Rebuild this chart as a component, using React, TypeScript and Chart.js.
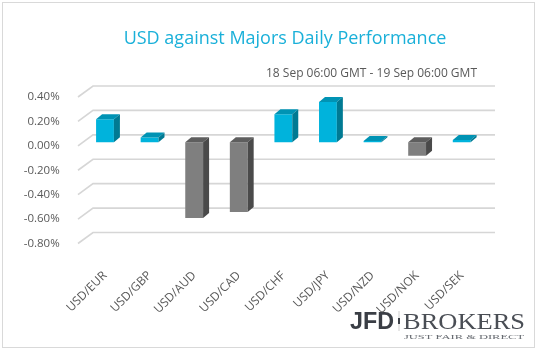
import React, { useEffect, useRef } from "react";
import { Chart, registerables } from "chart.js";

Chart.register(...registerables);

const categories = ["USD/EUR", "USD/GBP", "USD/AUD", "USD/CAD", "USD/CHF", "USD/JPY", "USD/NZD", "USD/NOK", "USD/SEK"];
const performance = [0.19, 0.04, -0.62, -0.57, 0.23, 0.33, 0.01, -0.11, 0.02];
const yMin = -0.8;
const yMax = 0.4;
const yStep = 0.2;
const titleText = "USD against Majors Daily Performance";
const subtitleText = "18 Sep 06:00 GMT - 19 Sep 06:00 GMT";
const logoMain = "JFD";
const logoSide = "BROKERS";
const logoTag = "JUST FAIR & DIRECT";

const FONT = "'Open Sans', 'DejaVu Sans', sans-serif";
const CYAN = ["#00b3dc", "#0093b4", "#007a93"]; // front, top, side
const GRAY = ["#7f7f7f", "#5e5e5e", "#4a4a4a"];
const DX = 6;
const DY = -5;
const SHIFT = -3.5;

const decor = {
  id: "decor",
  beforeDraw(chart: any) {
    const { ctx, chartArea, width, height } = chart;
    ctx.save();
    ctx.fillStyle = "#ffffff";
    ctx.fillRect(0, 0, width, height);
    ctx.strokeStyle = "#d9d9d9";
    ctx.lineWidth = 1;
    ctx.strokeRect(2.5, 2.5, 532, 345);

    const ys = chart.scales.y;
    ctx.strokeStyle = "#d6d6d6";
    ctx.lineWidth = 1.6;
    ys.ticks.forEach((t: any) => {
      const py = ys.getPixelForValue(t.value);
      ctx.beginPath();
      ctx.moveTo(chartArea.left - 4.7, py);
      ctx.lineTo(chartArea.left + 10.3, py - 11);
      ctx.lineTo(chartArea.right + 11, py - 11);
      ctx.stroke();
    });

    ctx.fillStyle = "#1ab0d9";
    ctx.font = "18px " + FONT;
    ctx.textAlign = "center";
    ctx.textBaseline = "middle";
    ctx.fillText(titleText, 285, 39);

    ctx.fillStyle = "#595959";
    ctx.font = "12px " + FONT;
    ctx.textAlign = "right";
    ctx.fillText(subtitleText, 477, 74);

    // logo
    ctx.textBaseline = "alphabetic";
    ctx.textAlign = "left";
    ctx.fillStyle = "#3a3e45";
    ctx.font = "bold 23px 'Liberation Sans', Arial, sans-serif";
    const jw = ctx.measureText(logoMain).width;
    ctx.save();
    ctx.translate(350, 329);
    ctx.scale(44 / jw, 1);
    ctx.fillText(logoMain, 0, 0);
    ctx.restore();
    ctx.fillStyle = "#cfcfcf";
    ctx.fillRect(398.5, 311, 1, 20);
    ctx.fillStyle = "#3c4047";
    ctx.fillRect(398, 318, 2, 6);
    ctx.fillStyle = "#4a4e55";
    ctx.font = "23px 'Liberation Serif', 'DejaVu Serif', serif";
    const bw = ctx.measureText(logoSide).width;
    ctx.save();
    ctx.translate(403, 329);
    ctx.scale(122 / bw, 1);
    ctx.fillText(logoSide, 0, 0);
    ctx.restore();
    ctx.fillStyle = "#666a70";
    ctx.font = "7px 'Liberation Serif', 'DejaVu Serif', serif";
    const tw = ctx.measureText(logoTag).width;
    ctx.save();
    ctx.translate(404, 338.5);
    ctx.scale(120 / tw, 1);
    ctx.fillText(logoTag, 0, 0);
    ctx.restore();
    ctx.restore();
  },
  beforeDatasetsDraw(chart: any) {
    chart.ctx.save();
    chart.ctx.translate(0, SHIFT);
  },
  afterDatasetsDraw(chart: any) {
    const ctx = chart.ctx;
    const meta = chart.getDatasetMeta(0);
    meta.data.forEach((bar: any, i: number) => {
      const { x, y, base, width } = bar.getProps(["x", "y", "base", "width"], true);
      const l = x - width / 2;
      const r = x + width / 2;
      const top = Math.min(y, base);
      const bot = Math.max(y, base);
      const pal = performance[i] >= 0 ? CYAN : GRAY;
      ctx.fillStyle = pal[1];
      ctx.beginPath();
      ctx.moveTo(l, top);
      ctx.lineTo(l + DX, top + DY);
      ctx.lineTo(r + DX, top + DY);
      ctx.lineTo(r, top);
      ctx.closePath();
      ctx.fill();
      ctx.fillStyle = pal[2];
      ctx.beginPath();
      ctx.moveTo(r, top);
      ctx.lineTo(r + DX, top + DY);
      ctx.lineTo(r + DX, bot + DY);
      ctx.lineTo(r, bot);
      ctx.closePath();
      ctx.fill();
    });
    ctx.restore();
  },
};

export default function App() {
  const ref = useRef<HTMLCanvasElement | null>(null);
  useEffect(() => {
    document.body.style.margin = "0";
    const canvas = ref.current;
    if (!canvas) return;
    const chart = new Chart(canvas, {
      type: "bar",
      data: {
        labels: categories,
        datasets: [
          {
            data: performance,
            backgroundColor: performance.map((v) => (v >= 0 ? CYAN[0] : GRAY[0])),
            borderWidth: 0,
            categoryPercentage: 1,
            barPercentage: 0.4,
          },
        ],
      },
      options: {
        responsive: false,
        animation: false,
        devicePixelRatio: 1,
        layout: { padding: { left: 0, right: 54, top: 97, bottom: 37.5 } },
        plugins: { legend: { display: false }, tooltip: { enabled: false }, title: { display: false } },
        scales: {
          x: {
            grid: { display: false },
            border: { display: false },
            ticks: {
              minRotation: 45,
              maxRotation: 45,
              padding: 17,
              color: "#595959",
              font: { family: FONT, size: 12 },
            },
            afterFit: (s: any) => {
              s.height = 70;
            },
          },
          y: {
            min: yMin,
            max: yMax,
            grid: { display: false },
            border: { display: false },
            ticks: {
              stepSize: yStep,
              padding: 15,
              color: "#595959",
              font: { family: FONT, size: 11.5 },
              callback: (v: any) => (Math.abs(v) < 1e-9 ? 0 : Number(v)).toFixed(2) + "%",
            },
            afterFit: (s: any) => {
              s.width = 82.7;
            },
          },
        },
      },
      plugins: [decor],
    });
    return () => chart.destroy();
  }, []);
  return (
    <div style={{ position: "absolute", left: 0, top: 0, width: 538, height: 351 }}>
      <canvas ref={ref} width={538} height={351} style={{ display: "block", width: 538, height: 351 }} />
    </div>
  );
}
